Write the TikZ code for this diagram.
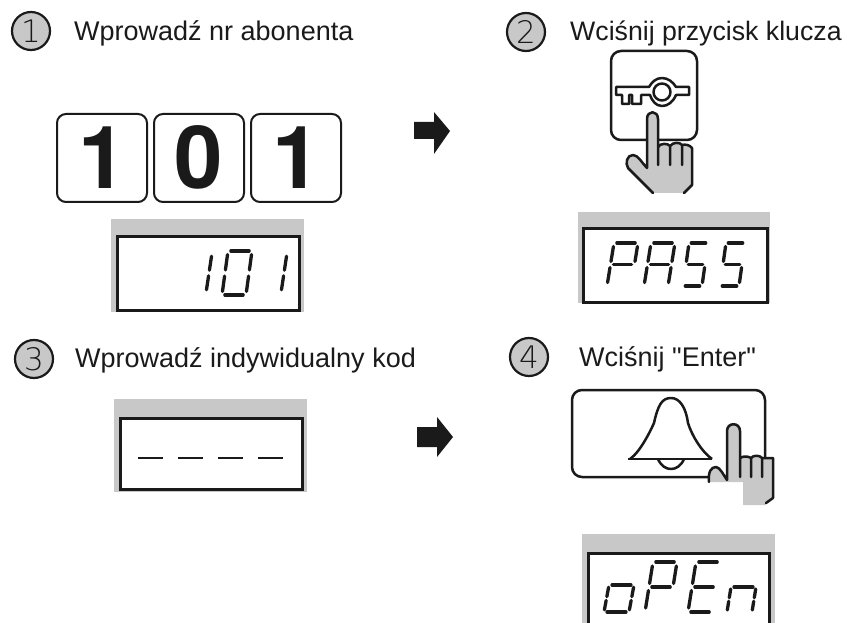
\documentclass[tikz,border=0pt]{standalone}
\usepackage{fontspec}
\setmainfont{Liberation Sans}
\newfontfamily\labelfont{Liberation Sans}
\newfontfamily\heavyfont{TeX Gyre Heros}
\newfontfamily\thinfont{DejaVu Sans ExtraLight}
\definecolor{ink}{HTML}{1A1A1A}
\definecolor{panel}{HTML}{C8C8C8}
\tikzset{
  label text/.style={anchor=base west,inner sep=0pt,text=ink,font=\labelfont\fontsize{27}{30}\selectfont},
  badge/.style={circle,draw=ink,fill=panel,line width=2.2pt,minimum size=38pt,inner sep=0pt,text=ink,font=\thinfont\fontsize{31}{31}\selectfont},
  keycap/.style={rectangle,rounded corners=9pt,draw=ink,fill=white,line width=2pt,minimum width=90pt,minimum height=88pt,inner sep=0pt},
  keydigit/.style={anchor=base,inner sep=0pt,text=ink,font=\heavyfont\bfseries\fontsize{87}{87}\selectfont},
  lcdframe/.style={draw=ink,fill=white,line width=3pt},
  lcd/.style={draw=ink,line width=3.3pt,line cap=round},
  outline/.style={draw=ink,line width=2.5pt,line join=round},
  handline/.style={draw=ink,line width=2.5pt,line join=round,line cap=round},
  pointer/.style={fill=ink,draw=none}
}
% affine seven-segment cell: x, ybottom, width, height, slant, segments
\newcommand{\lcdglyph}[6]{\begin{scope}[shift={(#1,#2)},x={(#3pt,0pt)},y={(#5pt,#4pt)}]#6\end{scope}}
\newcommand{\sA}{\draw[lcd](.12,1)--(.88,1);}
\newcommand{\sB}{\draw[lcd](1,.92)--(1,.57);}
\newcommand{\sC}{\draw[lcd](1,.43)--(1,.08);}
\newcommand{\sD}{\draw[lcd](.12,0)--(.88,0);}
\newcommand{\sE}{\draw[lcd](0,.08)--(0,.43);}
\newcommand{\sF}{\draw[lcd](0,.57)--(0,.92);}
\newcommand{\sG}{\draw[lcd](.12,.5)--(.88,.5);}
\begin{document}
\begin{tikzpicture}[x=1pt,y=-1pt]
\useasboundingbox (0,0) rectangle (847,623);
\fill[white] (0,0) rectangle (847,623);
% headings
\node[badge] (b1) at (31,31) {1};
\node[badge] (b2) at (526,32) {2};
\node[badge] (b3) at (34,359) {3};
\node[badge] (b4) at (529,357) {4};
\node[label text] (t1) at (74,41) {Wprowadź nr abonenta};
\node[label text,font=\labelfont\fontsize{26.7}{30}\selectfont] (t2) at (570,41) {Wciśnij przycisk klucza};
\node[label text] (t3) at (75,367) {Wprowadź indywidualny kod};
\node[label text] (t4) at (579,366) {Wciśnij "Enter"};
% keys 1 0 1
\node[keycap] (k1) at (102,158) {};
\node[keycap] (k2) at (199,158) {};
\node[keycap] (k3) at (296,158) {};
\node[keydigit] (d1) at (103,189) {1};
\node[keydigit] (d2) at (199,189) {0};
\node[keydigit] (d3) at (297,189) {1};
% arrows
\fill[pointer] (414,122)--(434,122)--(434,112)--(450,131)--(434,154)--(434,139)--(414,139)--cycle;
\fill[pointer] (417,427)--(437,427)--(437,417)--(453,437)--(437,457)--(437,447)--(417,447)--cycle;
% display 1
\fill[panel] (111,219) rectangle (304,312);
\draw[lcdframe] (117,237) rectangle (299,310);
\lcdglyph{182}{293}{24}{40}{6}{\sC\sB}
\lcdglyph{222}{295}{24}{44}{6}{\sA\sB\sC\sD\sE\sF}
\lcdglyph{257}{293}{24}{40}{6}{\sC\sB}
% display 2
\fill[panel] (578,212) rectangle (770,303);
\draw[lcdframe] (583,229) rectangle (767,302);
\lcdglyph{607}{286}{24}{43}{7}{\sA\sB\sE\sF\sG}
\lcdglyph{644}{286}{24}{43}{7}{\sA\sB\sC\sE\sF\sG}
\lcdglyph{683}{286}{19}{43}{6}{\sA\sC\sD\sF\sG}
\lcdglyph{720}{286}{19}{43}{6}{\sA\sC\sD\sF\sG}
% display 3
\fill[panel] (114,399) rectangle (307,492);
\draw[lcdframe] (120,418) rectangle (302,489);
\draw[ink,line width=2pt] (138,458)--(163,458) (178,458)--(203,458) (218,458)--(243,458) (258,458)--(283,458);
% display 4
\fill[panel] (582,534) rectangle (775,623);
\fill[white] (588,553) rectangle (769,623);
\draw[ink,line width=3pt] (588,623)--(588,553)--(769,553)--(769,623);
\lcdglyph{604}{612}{25}{27}{5}{\sA\sB\sC\sD\sE\sF}
\lcdglyph{645}{612}{24}{50}{8}{\sA\sB\sE\sF\sG}
\lcdglyph{688}{612}{24}{50}{8}{\sA\sD\sE\sF\sG}
\lcdglyph{727}{612}{25}{25}{4}{\sA\sB\sC\sE\sF}
% key button
\draw[outline,rounded corners=10pt] (611,51) rectangle (697,140);
\draw[outline,fill=white] (616,87)--(649,87) .. controls (652,82) and (656,78) .. (662,78) .. controls (668,78) and (673,82) .. (676,87)--(689,87)--(689,95)--(676,95) .. controls (673,102) and (668,106) .. (662,106) .. controls (656,106) and (652,101) .. (650,95)--(641,95)--(641,104)--(632,104)--(632,95)--(629,95)--(629,104)--(622,104)--(622,95)--(616,95)--cycle;
\draw[outline] (662,92) circle (8.5);
% hand 1
\fill[panel] (647,119) .. controls (647,110) and (658,110) .. (658,119) -- (658,147) .. controls (660,143) and (668,143) .. (670,146) .. controls (673,142) and (680,142) .. (682,145) .. controls (685,144) and (690,145) .. (692,148) -- (692,185) -- (683,193) -- (653,193) -- (628,168) .. controls (625,163) and (627,155) .. (633,155) .. controls (638,155) and (642,163) .. (647,168) -- cycle;
\draw[handline] (653,193) -- (628,168) .. controls (625,163) and (627,155) .. (633,155) .. controls (638,155) and (642,163) .. (647,168) -- (647,119) .. controls (647,110) and (658,110) .. (658,119) -- (658,165);
\draw[handline] (658,147) .. controls (660,143) and (668,143) .. (670,146) -- (670,165);
\draw[handline] (670,146) .. controls (673,142) and (680,142) .. (682,145) -- (682,165);
\draw[handline] (682,145) .. controls (685,144) and (690,145) .. (692,148) -- (692,185) -- (684,193);
% bell button
\draw[outline,rounded corners=10pt] (572,390) rectangle (765,477);
\draw[outline] (630,459) .. controls (640,452) and (650,432) .. (654,423) .. controls (658,405) and (662,398) .. (671,398) .. controls (680,398) and (686,408) .. (688,423) .. controls (692,436) and (702,452) .. (712,459);
\draw[outline] (628,459)--(712,459);
\draw[outline] (658,459) .. controls (661,466) and (666,469) .. (671,469) .. controls (676,469) and (681,466) .. (684,459);
% hand 2
\fill[panel] (727,431) .. controls (727,422) and (740,422) .. (740,431) -- (740,458) .. controls (743,456) and (748,456) .. (751,458) .. controls (753,455) and (760,455) .. (762,458) -- (773,458) -- (773,498) -- (766,503) -- (766,505) -- (743,505) -- (743,482) -- (709,482) .. controls (708,472) and (711,467) .. (716,467) .. controls (720,467) and (724,476) .. (727,480) -- cycle;
\draw[handline] (709,482) .. controls (708,472) and (711,467) .. (716,467) .. controls (720,467) and (724,476) .. (727,480) -- (727,431) .. controls (727,422) and (740,422) .. (740,431) -- (740,477);
\draw[handline] (740,458) .. controls (743,456) and (748,456) .. (751,458) -- (751,477);
\draw[handline] (751,458) .. controls (753,455) and (760,455) .. (762,458) -- (762,477);
\draw[handline] (762,458) -- (773,458) -- (773,498) -- (766,503);
\end{tikzpicture}
\end{document}
